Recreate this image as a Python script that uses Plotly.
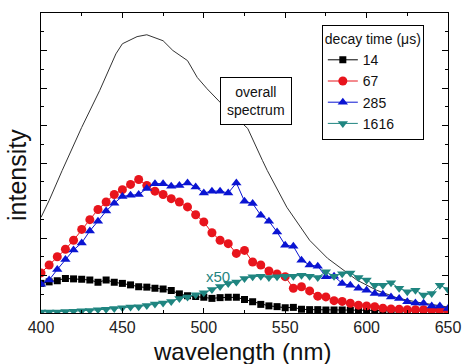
import plotly.graph_objects as go

wavelength = list(range(400, 651, 5))

s14 = [0.79, 0.83, 0.86, 0.92, 0.91, 0.90, 0.88, 0.82, 0.88, 0.82,
       0.79, 0.75, 0.70, 0.69, 0.66, 0.64, 0.60, 0.51, 0.46, 0.44,
       0.42, 0.39, 0.41, 0.42, 0.42, 0.36, 0.30, 0.23, 0.19, 0.17,
       0.14, 0.15, 0.10, 0.09, 0.09, 0.08, 0.08, 0.08, 0.07, 0.07,
       0.07, 0.07, 0.06, 0.06, 0.06, 0.05, 0.05, 0.05, 0.05, 0.05, 0.05]

s67 = [1.07, 1.28, 1.50, 1.70, 1.94, 2.23, 2.49, 2.76, 2.96, 3.16,
       3.29, 3.43, 3.56, 3.40, 3.25, 3.16, 3.05, 2.96, 2.83, 2.62,
       2.43, 2.14, 1.94, 1.85, 1.59, 1.67, 1.36, 1.28, 1.12, 1.04,
       0.97, 0.66, 0.70, 0.59, 0.45, 0.43, 0.33, 0.31, 0.26, 0.21,
       0.19, 0.17, 0.13, 0.11, 0.10, 0.09, 0.09, 0.09, 0.08, 0.08, 0.07]

s285 = [0.77, 0.88, 1.16, 1.43, 1.68, 1.87, 2.19, 2.45, 2.72, 2.93,
        3.11, 3.14, 3.16, 3.32, 3.45, 3.45, 3.38, 3.40, 3.47, 3.36,
        3.20, 3.25, 3.25, 3.20, 3.47, 2.98, 2.92, 2.61, 2.45, 2.16,
        1.81, 1.78, 1.41, 1.28, 1.25, 0.97, 0.98, 0.79, 0.74, 0.66,
        0.61, 0.52, 0.50, 0.43, 0.39, 0.30, 0.27, 0.26, 0.19, 0.19, 0.12]

s1616 = [0.03, 0.03, 0.03, 0.04, 0.05, 0.06, 0.07, 0.09, 0.10, 0.12,
         0.14, 0.16, 0.17, 0.20, 0.24, 0.27, 0.31, 0.39, 0.43, 0.49,
         0.54, 0.63, 0.71, 0.79, 0.83, 0.92, 0.97, 0.98, 0.95, 0.97,
         0.98, 0.98, 1.01, 0.98, 0.95, 1.10, 0.98, 1.05, 1.07, 0.95,
         0.88, 0.74, 0.74, 0.81, 0.66, 0.57, 0.61, 0.48, 0.52, 0.74, 0.63]

overall_x = [400, 405, 413, 425, 436, 446, 450, 459, 465, 475, 481, 490, 496,
             502, 512, 527, 536, 539, 551, 565, 576, 584, 594, 606, 619, 631, 650]
overall_y = [2.55, 3.00, 3.80, 4.95, 5.93, 6.91, 7.18, 7.37, 7.42, 7.26, 7.00, 6.73, 6.28,
             5.98, 5.53, 4.92, 4.07, 3.80, 2.82, 1.94, 1.46, 1.20, 0.88, 0.61, 0.40, 0.29, 0.16]

series_names = ["14", "67", "285", "1616"]
x_ticks = [400, 450, 500, 550, 600, 650]

FONT = "Liberation Sans, Arial"

fig = go.Figure()

fig.add_trace(go.Scatter(x=overall_x, y=overall_y, mode="lines",
                         line=dict(color="#333333", width=1), showlegend=False,
                         hoverinfo="skip"))

styles = [
    (s14, "#000000", "square", 7),
    (s67, "#e8141c", "circle", 9),
    (s285, "#0a14d2", "triangle-up", 9),
    (s1616, "#1f8580", "triangle-down", 9),
]
for name, (vals, col, sym, sz) in zip(series_names, styles):
    fig.add_trace(go.Scatter(
        x=wavelength, y=vals, mode="lines+markers", name=name,
        line=dict(color=col, width=1),
        marker=dict(symbol=sym, size=sz, color=col, line=dict(width=0)),
    ))

fig.add_annotation(x=532, y=5.65, xref="x", yref="y",
                   text="overall<br>spectrum", showarrow=False,
                   font=dict(family=FONT, size=14, color="#111111"),
                   bgcolor="white", bordercolor="black", borderwidth=1, borderpad=6)
fig.add_annotation(x=509, y=0.98, xref="x", yref="y", text="x50", showarrow=False,
                   font=dict(family=FONT, size=15, color="#1f8580"))

# axis titles
fig.add_annotation(x=0.493, y=-0.13, xref="paper", yref="paper", text="wavelength (nm)",
                   showarrow=False, xanchor="center", yanchor="middle",
                   font=dict(family=FONT, size=24, color="#111111"))
fig.add_annotation(x=-0.059, y=0.46, xref="paper", yref="paper", text="intensity",
                   showarrow=False, textangle=-90, xanchor="center", yanchor="middle",
                   font=dict(family=FONT, size=25, color="#111111"))

axis_common = dict(showline=True, linecolor="black", linewidth=1, mirror="allticks",
                   ticks="inside", showgrid=False, zeroline=False, automargin=False)

fig.update_xaxes(range=[400, 650], tickvals=x_ticks, ticklen=5, tickcolor="black",
                 minor=dict(dtick=25, ticks="inside", ticklen=3, tickcolor="black"),
                 tickfont=dict(family=FONT, size=16, color="#222222"),
                 **axis_common)
fig.update_yaxes(range=[0, 8], dtick=1, ticklen=6, tickcolor="black", showticklabels=False,
                 minor=dict(dtick=0.5, ticks="inside", ticklen=3, tickcolor="black"),
                 **axis_common)

fig.update_layout(
    width=469, height=364,
    margin=dict(l=41, r=21, t=13, b=51, autoexpand=False),
    plot_bgcolor="white", paper_bgcolor="white",
    legend=dict(x=0.69, y=0.96, xanchor="left", yanchor="top",
                bgcolor="white", bordercolor="black", borderwidth=1,
                title=dict(text="decay time (\u03bcs)",
                           font=dict(family=FONT, size=14, color="#111111")),
                font=dict(family=FONT, size=14, color="#111111"),
                tracegroupgap=0, itemwidth=30, entrywidth=78),
)

fig.write_html("out.html", config={"displayModeBar": False},
               post_script="document.body.style.margin='0';document.body.style.overflow='hidden';")
